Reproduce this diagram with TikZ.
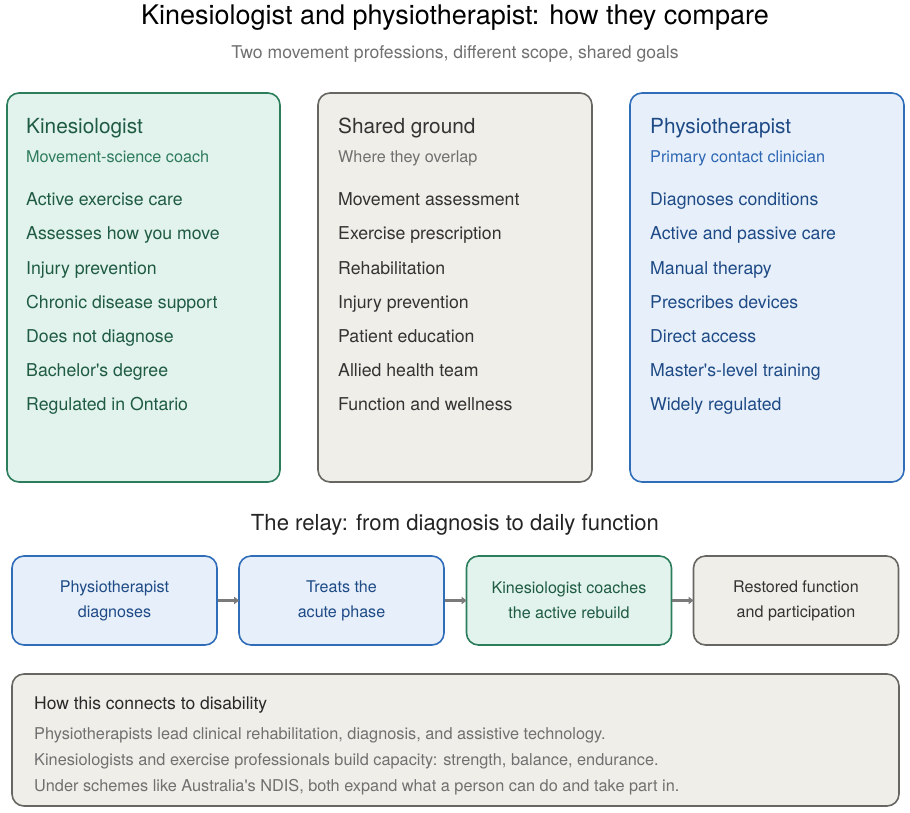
\documentclass[tikz,border=0pt]{standalone}
\usepackage{fontspec}
\setmainfont{TeX Gyre Heros}
\usetikzlibrary{arrows.meta}
\definecolor{kfill}{HTML}{E1F3EC}
\definecolor{kline}{HTML}{2B7D5C}
\definecolor{ktext}{HTML}{1F5B43}
\definecolor{ksub}{HTML}{2E7B5D}
\definecolor{sfill}{HTML}{F0EEE8}
\definecolor{sline}{HTML}{676662}
\definecolor{stext}{HTML}{333333}
\definecolor{ssub}{HTML}{707070}
\definecolor{pfill}{HTML}{E7F0FA}
\definecolor{pline}{HTML}{2F6DB8}
\definecolor{ptext}{HTML}{1E4A86}
\definecolor{psub}{HTML}{2D66B2}
\definecolor{arr}{HTML}{7A7A7A}
\newcommand{\sq}{\textquotesingle}
\tikzset{
  panel/.style={rounded corners=12pt, line width=1.6pt},
  relaybox/.style={rounded corners=12pt, line width=1.6pt, minimum width=205pt, minimum height=89pt, align=center, font=\fontsize{16.1}{25}\selectfont, inner sep=0pt, execute at begin node={\rule{0pt}{16pt}}},
  txt/.style={anchor=west, inner sep=0pt, text height=0.72em, text depth=0pt, yshift=-3pt},
  ctxt/.style={inner sep=0pt, text height=0.72em, text depth=0pt, yshift=-3.5pt},
  head/.style={txt, font=\fontsize{20.8}{24}\selectfont},
  sub/.style={txt, font=\fontsize{16.2}{19}\selectfont},
  item/.style={txt, font=\fontsize{17.7}{21}\selectfont},
  note/.style={txt, font=\fontsize{16.3}{19}\selectfont, text=ssub},
  flow/.style={-{Triangle[length=5pt,width=7pt]}, line width=2.6pt, draw=arr, shorten >=-1pt},
}
\begin{document}
\begin{tikzpicture}[x=1pt,y=-1pt]
\useasboundingbox (0,0) rectangle (910,812);
\node[ctxt] (title) at (455,17) {\fontsize{27}{30}\selectfont Kinesiologist and physiotherapist: how they compare};
\node[ctxt, text=ssub] (subtitle) at (455,51) {\fontsize{17.6}{20}\selectfont Two movement professions, different scope, shared goals};

% panels
\draw[panel, fill=kfill, draw=kline] (7,93) rectangle (280,482);
\draw[panel, fill=sfill, draw=sline] (318,93) rectangle (592,482);
\draw[panel, fill=pfill, draw=pline] (630,93) rectangle (904,482);

\node[head, text=ktext] (kh) at (26,127) {Kinesiologist};
\node[sub, text=ksub] (ks) at (26,156) {Movement-science coach};
\node[head, text=stext] (sh) at (338,127) {Shared ground};
\node[sub, text=ssub] (ss) at (338,156) {Where they overlap};
\node[head, text=ptext] (ph) at (650,127) {Physiotherapist};
\node[sub, text=psub] (ps) at (650,156) {Primary contact clinician};

\foreach \t [count=\i from 0] in {Active exercise care, Assesses how you move, Injury prevention, Chronic disease support, Does not diagnose, Bachelor\sq s degree, Regulated in Ontario}
  \node[item, text=ktext] (k\i) at (26,199+34.2*\i) {\t};
\foreach \t [count=\i from 0] in {Movement assessment, Exercise prescription, Rehabilitation, Injury prevention, Patient education, Allied health team, Function and wellness}
  \node[item, text=stext] (s\i) at (338,199+34.2*\i) {\t};
\foreach \t [count=\i from 0] in {Diagnoses conditions, Active and passive care, Manual therapy, Prescribes devices, Direct access, Master\sq s-level training, Widely regulated}
  \node[item, text=ptext] (p\i) at (650,199+34.2*\i) {\t};

\node[ctxt, text=stext!70!black] (relay) at (455,523) {\fontsize{22.1}{25}\selectfont The relay: from diagnosis to daily function};

\node[relaybox, fill=pfill, draw=pline, text=ptext] (r1) at (114.5,600.5) {Physiotherapist\\diagnoses};
\node[relaybox, fill=pfill, draw=pline, text=ptext] (r2) at (341.5,600.5) {Treats the\\acute phase};
\node[relaybox, fill=kfill, draw=kline, text=ktext] (r3) at (569,600.5) {Kinesiologist coaches\\the active rebuild};
\node[relaybox, fill=sfill, draw=sline, text=stext] (r4) at (796,600.5) {Restored function\\and participation};
\draw[flow] (r1) -- (r2);
\draw[flow] (r2) -- (r3);
\draw[flow] (r3) -- (r4);

\draw[panel, fill=sfill, draw=sline] (12,674) rectangle (899,806);
\node[txt, font=\fontsize{17.5}{20}\selectfont, text=stext!80!black] (dh) at (34,703) {How this connects to disability};
\node[note] (d1) at (34,733) {Physiotherapists lead clinical rehabilitation, diagnosis, and assistive technology.};
\node[note] (d2) at (34,759) {Kinesiologists and exercise professionals build capacity: strength, balance, endurance.};
\node[note] (d3) at (34,785) {Under schemes like Australia\sq s NDIS, both expand what a person can do and take part in.};
\end{tikzpicture}
\end{document}
